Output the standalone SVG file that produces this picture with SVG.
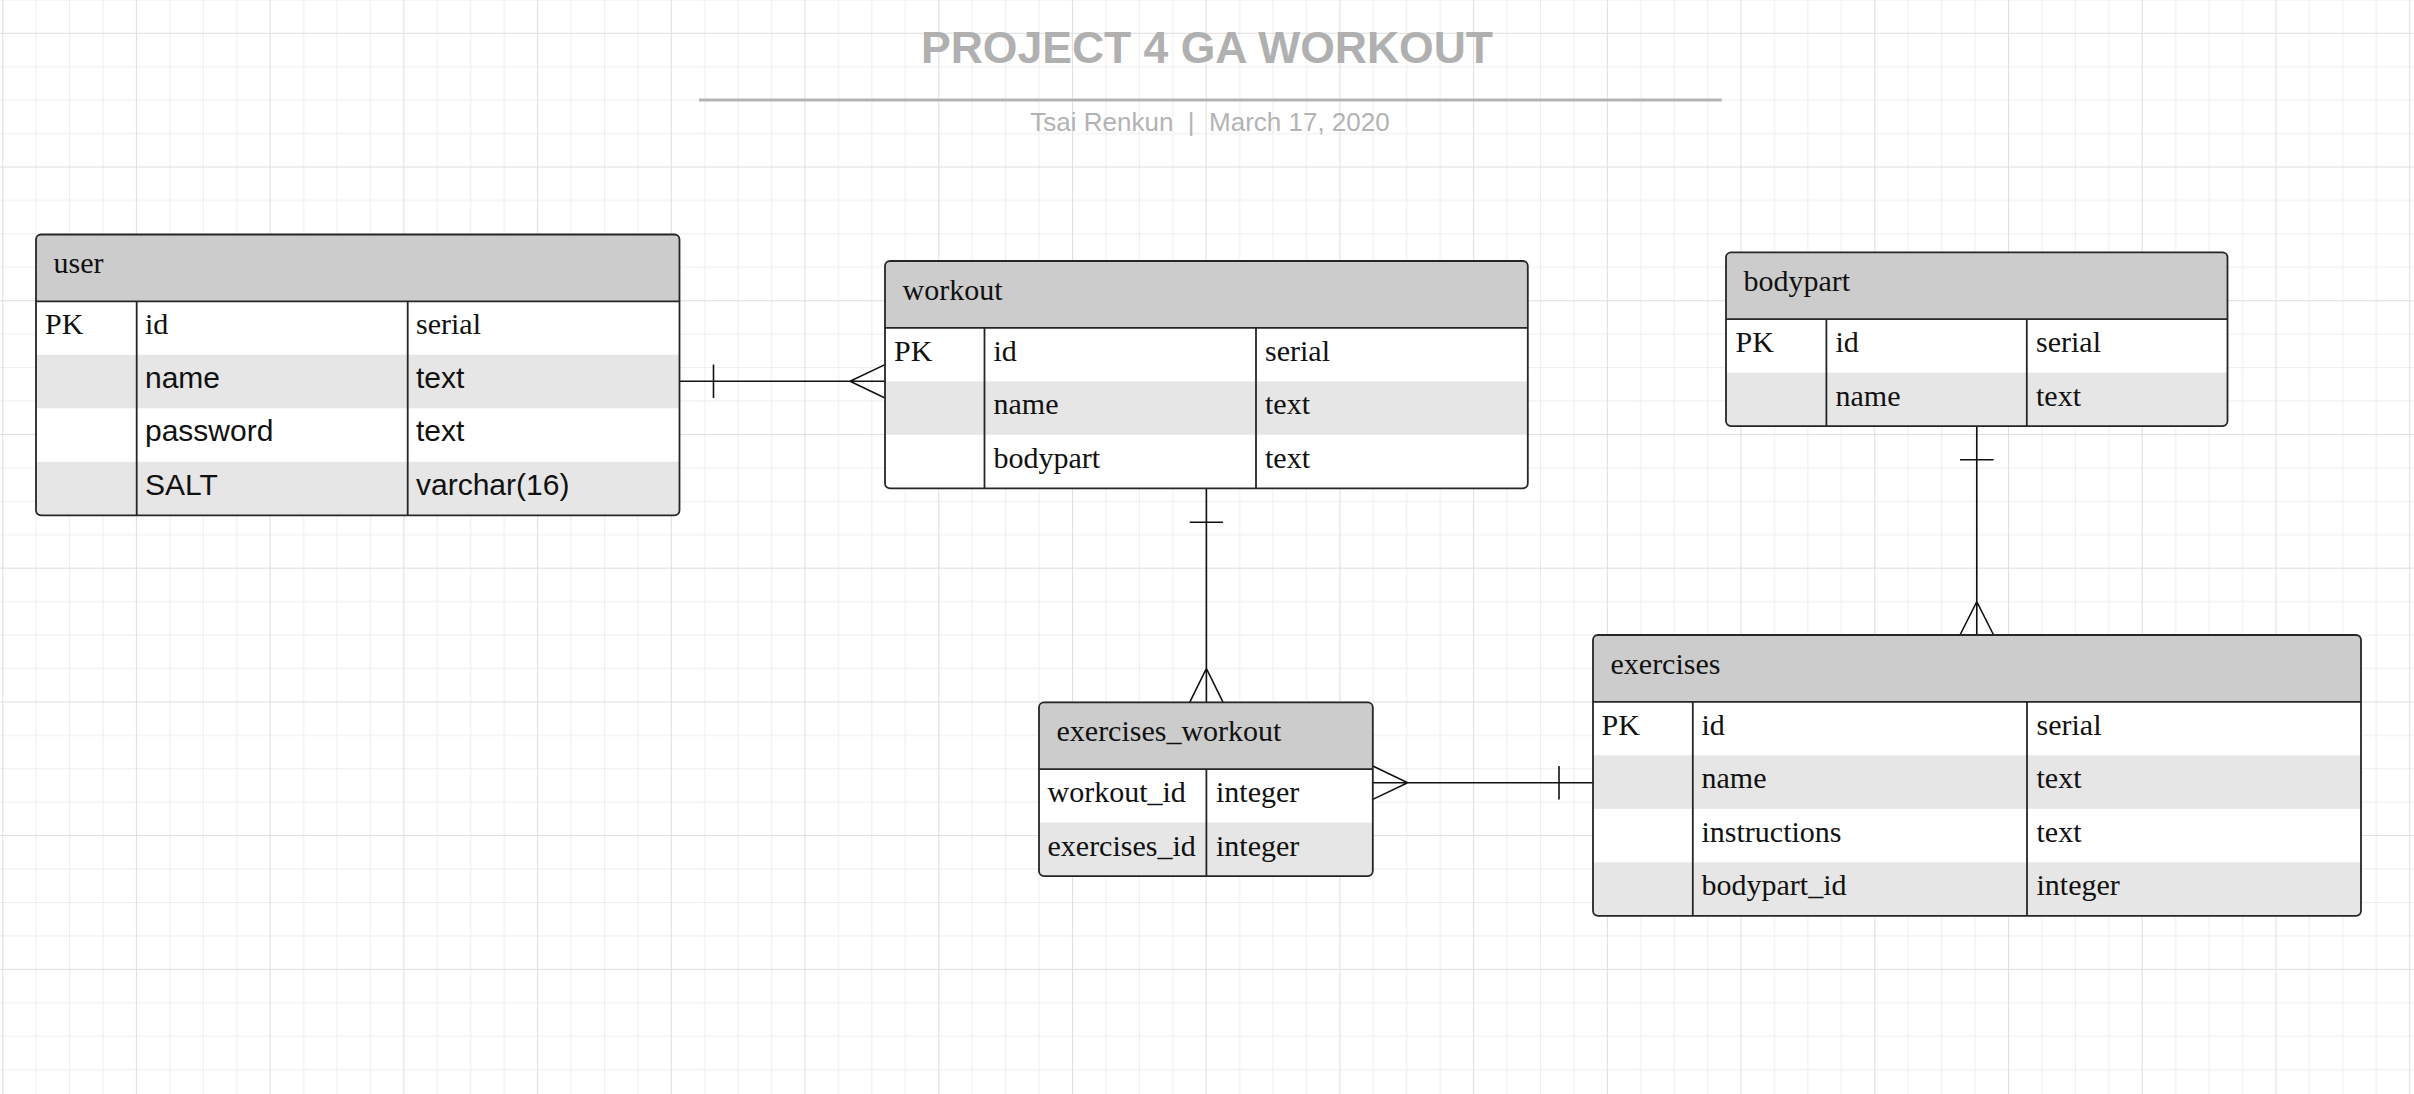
<svg xmlns="http://www.w3.org/2000/svg" width="2414" height="1094" viewBox="0 0 2414 1094">
<style>
.hd{fill:#cccccc}
.alt{fill:#e6e6e6}
.bg{fill:#ffffff}
.ol{fill:none;stroke:#262626;stroke-width:1.8}
.ln{fill:none;stroke:#262626;stroke-width:1.8}
.t{font-family:"Liberation Serif","Times New Roman",serif;font-size:30px;fill:#111111}
.s{font-family:"Liberation Sans",Arial,sans-serif;font-size:30px;fill:#111111}
.cn{fill:none;stroke:#111111;stroke-width:1.6}
.title{font-family:"Liberation Sans",Arial,sans-serif;font-weight:bold;font-size:44.5px;fill:#b0b0b0}
.sub{font-family:"Liberation Sans",Arial,sans-serif;font-size:26px;fill:#b3b3b3;white-space:pre}
</style>
<defs>
<pattern id="grid" patternUnits="userSpaceOnUse" x="2.2" y="32.8" width="133.72" height="133.72">
<path d="M33.93 0V133.72M67.36 0V133.72M100.79 0V133.72M0 33.93H133.72M0 67.36H133.72M0 100.79H133.72" stroke="#eeeeee" stroke-width="1"/>
<path d="M0.5 0V133.72M0 0.5H133.72" stroke="#dedede" stroke-width="1"/>
</pattern>
<clipPath id="cUser"><rect x="36" y="234.5" width="643.5" height="280.8" rx="5"/></clipPath>
<clipPath id="cWorkout"><rect x="885" y="261" width="642.8" height="227.3" rx="5"/></clipPath>
<clipPath id="cBody"><rect x="1726" y="252.3" width="501.5" height="173.8" rx="5"/></clipPath>
<clipPath id="cEW"><rect x="1039" y="702.3" width="333.8" height="173.8" rx="5"/></clipPath>
<clipPath id="cEx"><rect x="1593" y="635" width="768" height="280.8" rx="5"/></clipPath>
</defs>
<rect width="2414" height="1094" fill="#ffffff"/>
<rect width="2414" height="1094" fill="url(#grid)"/>

<g id="title">
<text class="title" x="1207" y="63.3" text-anchor="middle">PROJECT 4 GA WORKOUT</text>
<line x1="699" y1="100" x2="1721.7" y2="100" stroke="#b3b3b3" stroke-width="3"/>
<text class="sub" x="1210" y="130.7" text-anchor="middle" xml:space="preserve">Tsai Renkun  |  March 17, 2020</text>
</g>

<g id="connectors">
<path class="cn" d="M679.5 381.3H885M713.5 364.6V398M885 364.6L850 381.3L885 398"/>
<path class="cn" d="M1206.4 488.3V702.3M1189.7 522.3H1223.1M1189.7 702.3L1206.4 668.5L1223.1 702.3"/>
<path class="cn" d="M1976.8 426.1V635M1960 459.7H1993.6M1960 635L1976.8 601.7L1993.6 635"/>
<path class="cn" d="M1372.8 782.7H1593M1559 766V799.4M1372.8 766L1407.7 782.7L1372.8 799.4"/>
</g>

<g id="user">
<g clip-path="url(#cUser)">
<rect class="bg" x="36" y="234.5" width="643.5" height="280.8"/>
<rect class="hd" x="36" y="234.5" width="643.5" height="66.8"/>
<rect class="alt" x="36" y="354.8" width="643.5" height="53.5"/>
<rect class="alt" x="36" y="461.8" width="643.5" height="53.5"/>
</g>
<path class="ln" d="M36 301.3H679.5M136.7 301.3V515.3M407.7 301.3V515.3"/>
<rect class="ol" x="36" y="234.5" width="643.5" height="280.8" rx="5"/>
<text class="t" x="53.5" y="273.3">user</text>
<text class="t" x="45" y="334.3">PK</text>
<text class="t" x="145" y="334.3">id</text>
<text class="t" x="416" y="334.3">serial</text>
<text class="s" x="145" y="387.8">name</text>
<text class="s" x="416" y="387.8">text</text>
<text class="s" x="145" y="441.3">password</text>
<text class="s" x="416" y="441.3">text</text>
<text class="s" x="145" y="494.8">SALT</text>
<text class="s" x="416" y="494.8">varchar(16)</text>
</g>

<g id="workout">
<g clip-path="url(#cWorkout)">
<rect class="bg" x="885" y="261" width="642.8" height="227.3"/>
<rect class="hd" x="885" y="261" width="642.8" height="66.8"/>
<rect class="alt" x="885" y="381.3" width="642.8" height="53.5"/>
</g>
<path class="ln" d="M885 327.8H1527.8M984.5 327.8V488.3M1256 327.8V488.3"/>
<rect class="ol" x="885" y="261" width="642.8" height="227.3" rx="5"/>
<text class="t" x="902.5" y="299.8">workout</text>
<text class="t" x="894" y="360.8">PK</text>
<text class="t" x="993.5" y="360.8">id</text>
<text class="t" x="1265" y="360.8">serial</text>
<text class="t" x="993.5" y="414.3">name</text>
<text class="t" x="1265" y="414.3">text</text>
<text class="t" x="993.5" y="467.8">bodypart</text>
<text class="t" x="1265" y="467.8">text</text>
</g>

<g id="bodypart">
<g clip-path="url(#cBody)">
<rect class="bg" x="1726" y="252.3" width="501.5" height="173.8"/>
<rect class="hd" x="1726" y="252.3" width="501.5" height="66.8"/>
<rect class="alt" x="1726" y="372.6" width="501.5" height="53.5"/>
</g>
<path class="ln" d="M1726 319.1H2227.5M1826.4 319.1V426.1M2026.8 319.1V426.1"/>
<rect class="ol" x="1726" y="252.3" width="501.5" height="173.8" rx="5"/>
<text class="t" x="1743.5" y="291.1">bodypart</text>
<text class="t" x="1735.5" y="352.1">PK</text>
<text class="t" x="1835.5" y="352.1">id</text>
<text class="t" x="2036" y="352.1">serial</text>
<text class="t" x="1835.5" y="405.6">name</text>
<text class="t" x="2036" y="405.6">text</text>
</g>

<g id="exercises_workout">
<g clip-path="url(#cEW)">
<rect class="bg" x="1039" y="702.3" width="333.8" height="173.8"/>
<rect class="hd" x="1039" y="702.3" width="333.8" height="66.8"/>
<rect class="alt" x="1039" y="822.6" width="333.8" height="53.5"/>
</g>
<path class="ln" d="M1039 769.1H1372.8M1206.4 769.1V876.1"/>
<rect class="ol" x="1039" y="702.3" width="333.8" height="173.8" rx="5"/>
<text class="t" x="1056.5" y="741.1">exercises_workout</text>
<text class="t" x="1047.5" y="802.1">workout_id</text>
<text class="t" x="1216" y="802.1">integer</text>
<text class="t" x="1047.5" y="855.6">exercises_id</text>
<text class="t" x="1216" y="855.6">integer</text>
</g>

<g id="exercises">
<g clip-path="url(#cEx)">
<rect class="bg" x="1593" y="635" width="768" height="280.8"/>
<rect class="hd" x="1593" y="635" width="768" height="66.8"/>
<rect class="alt" x="1593" y="755.3" width="768" height="53.5"/>
<rect class="alt" x="1593" y="862.3" width="768" height="53.5"/>
</g>
<path class="ln" d="M1593 701.8H2361M1692.8 701.8V915.8M2027 701.8V915.8"/>
<rect class="ol" x="1593" y="635" width="768" height="280.8" rx="5"/>
<text class="t" x="1610.5" y="673.8">exercises</text>
<text class="t" x="1601.5" y="734.8">PK</text>
<text class="t" x="1701.5" y="734.8">id</text>
<text class="t" x="2036.5" y="734.8">serial</text>
<text class="t" x="1701.5" y="788.3">name</text>
<text class="t" x="2036.5" y="788.3">text</text>
<text class="t" x="1701.5" y="841.8">instructions</text>
<text class="t" x="2036.5" y="841.8">text</text>
<text class="t" x="1701.5" y="895.3">bodypart_id</text>
<text class="t" x="2036.5" y="895.3">integer</text>
</g>
</svg>
